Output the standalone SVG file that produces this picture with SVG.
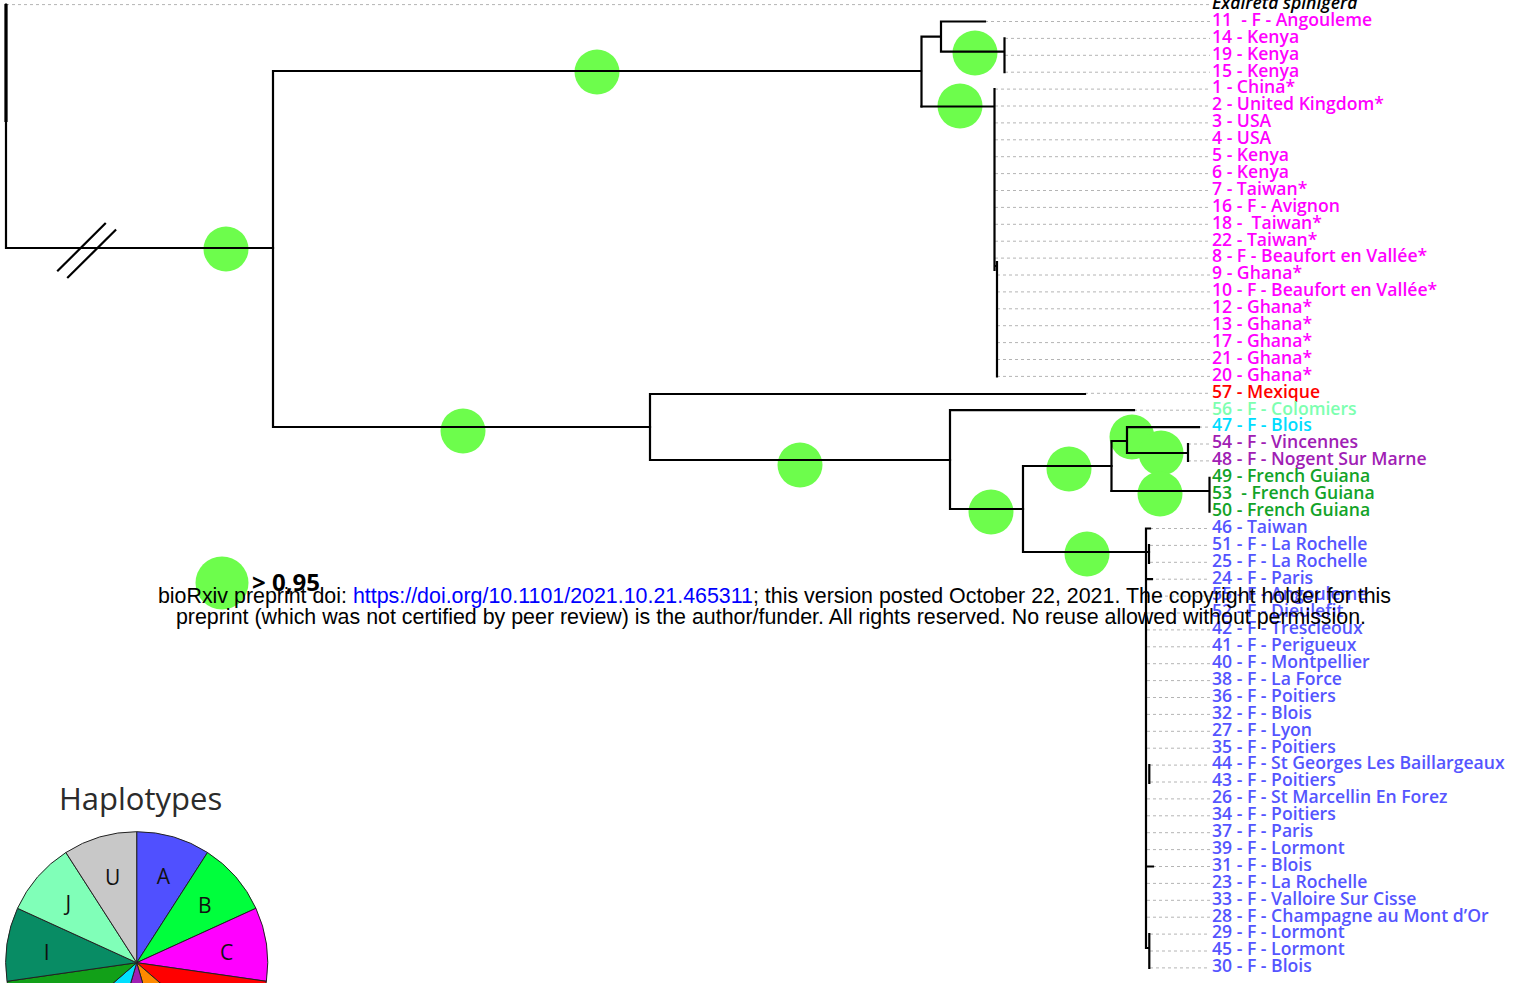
<svg xmlns="http://www.w3.org/2000/svg" width="1524" height="983" viewBox="0 0 1524 983">
<style>
.br{fill:none;stroke:#000;stroke-width:2.2;stroke-linecap:square}
.ds{fill:none;stroke:#b4b4b4;stroke-width:1;stroke-dasharray:3 3}
.pp{fill:#6dfd4c}
.lb{font-family:"Open Sans","Noto Sans",sans-serif;font-weight:600;font-size:17.6px}
.m{fill:#ff00ff}.r{fill:#ff0000}.mint{fill:#7dffb0}.cy{fill:#00dcff}.pu{fill:#a020b4}.gr{fill:#12a328}.bl{fill:#5555ff}
.sl{stroke:#222;stroke-width:1}
.pl{font-family:"Open Sans","Liberation Sans",sans-serif;font-size:21px;fill:#111;text-anchor:middle}
.bx{font-family:"Liberation Sans",Arial,sans-serif;font-size:21.4px;fill:#000;text-anchor:middle}
</style>
<rect width="1524" height="983" fill="#fff"/>
<g id="support">
<circle class="pp" cx="226" cy="249" r="22.5"/>
<circle class="pp" cx="597" cy="72" r="22.5"/>
<circle class="pp" cx="463" cy="431" r="22.5"/>
<circle class="pp" cx="975" cy="53" r="22.5"/>
<circle class="pp" cx="960" cy="106" r="22.5"/>
<circle class="pp" cx="800" cy="465" r="22.5"/>
<circle class="pp" cx="991" cy="512" r="22.5"/>
<circle class="pp" cx="1069" cy="469" r="22.5"/>
<circle class="pp" cx="1132" cy="437" r="22.5"/>
<circle class="pp" cx="1161" cy="453" r="22.5"/>
<circle class="pp" cx="1160" cy="494" r="22.5"/>
<circle class="pp" cx="1087" cy="554" r="22.5"/>
</g>
<g id="connectors">
<g class="ds">
<path d="M6,4.6H1210"/>
<path d="M985,21.5H1210M1005,38.4H1210M1005,55.3H1210M1005,72.2H1210"/>
<path d="M995,89.1H1210M995,106H1210M995,122.9H1210M995,139.8H1210M995,156.7H1210M995,173.6H1210M995,190.5H1210M995,207.4H1210M995,224.3H1210M995,241.2H1210M995,258.1H1210M997,275H1210M997,291.9H1210M997,308.8H1210M997,325.7H1210M997,342.6H1210M997,359.5H1210M997,376.4H1210"/>
<path d="M1085,393.3H1210M1134,410.2H1210M1199,427.1H1210M1188,444H1210M1188,460.9H1210"/>
<path d="M1150,528.5H1210M1150,545.4H1210M1150,562.3H1210M1150,579.2H1210M1147,596.1H1210M1147,613H1210M1147,629.9H1210M1147,646.8H1210M1147,663.7H1210M1147,680.6H1210M1147,697.5H1210M1147,714.4H1210M1147,731.3H1210M1147,748.2H1210M1150,765.1H1210M1150,782H1210M1147,798.9H1210M1147,815.8H1210M1147,832.7H1210M1147,849.6H1210M1153,866.5H1210M1147,883.4H1210M1147,900.3H1210M1147,917.2H1210M1150,934.1H1210M1150,951H1210M1150,967.9H1210"/>
</g>
<path class="br" d="M6,4.6V248H273"/>
<path d="M6,4V122" stroke="#000" stroke-width="3.2" fill="none"/>
<path class="br" d="M58,270.5L105,223.8M68,277.3L115.3,230.3"/>
<path class="br" d="M273,71V427M273,71H921M273,427H650"/>
<path class="br" d="M921.5,36.7V106.5M921.5,36.7H941M941,21.5V51.7M941,21.5H985M941,51.7H1004.5M1004.5,38.4V72.2"/>
<path class="br" d="M921.5,106.5H994.5M994.5,89.1V270M994.5,266H997M997,262V376.4"/>
<path class="br" d="M650,394V460M650,394H1085M650,460H950"/>
<path class="br" d="M950,410.2V509M950,410.2H1134M950,509H1023"/>
<path class="br" d="M1023,466V552M1023,466H1111.5M1023,552H1149"/>
<path class="br" d="M1111.5,441V491M1111.5,441H1127M1127,427.1V453M1127,427.1H1199M1127,453H1188M1188,444V461"/>
<path class="br" d="M1111.5,491H1209.5M1209.5,477.8V511.6"/>
<path class="br" d="M1146,528.5H1150M1146,528.5V948M1149,545V563M1146,579.2H1152M1149.3,765V783M1146,866.5H1153M1146,948H1149.3M1149.3,934V968"/>
</g>
<g id="labels" class="lb" transform="translate(0,1)">
<g id="n0"><text x="1212" y="7.9" font-style="italic" fill="#000">Exaireta spinigera</text></g>
<g id="n11"><text class="m" x="1212" y="24.8" xml:space="preserve">11  - F - Angouleme</text></g>
<g id="n14"><text class="m" x="1212" y="41.7">14 - Kenya</text></g>
<g id="n19"><text class="m" x="1212" y="58.6">19 - Kenya</text></g>
<g id="n15"><text class="m" x="1212" y="75.5">15 - Kenya</text></g>
<g id="n1"><text class="m" x="1212" y="92.4">1 - China*</text></g>
<g id="n2"><text class="m" x="1212" y="109.3">2 - United Kingdom*</text></g>
<g id="n3"><text class="m" x="1212" y="126.2">3 - USA</text></g>
<g id="n4"><text class="m" x="1212" y="143.1">4 - USA</text></g>
<g id="n5"><text class="m" x="1212" y="160">5 - Kenya</text></g>
<g id="n6"><text class="m" x="1212" y="176.9">6 - Kenya</text></g>
<g id="n7"><text class="m" x="1212" y="193.8">7 - Taiwan*</text></g>
<g id="n16"><text class="m" x="1212" y="210.7">16 - F - Avignon</text></g>
<g id="n18"><text class="m" x="1212" y="227.6" xml:space="preserve">18 -  Taiwan*</text></g>
<g id="n22"><text class="m" x="1212" y="244.5">22 - Taiwan*</text></g>
<g id="n8"><text class="m" x="1212" y="261.4">8 - F - Beaufort en Vallée*</text></g>
<g id="n9"><text class="m" x="1212" y="278.3">9 - Ghana*</text></g>
<g id="n10"><text class="m" x="1212" y="295.2">10 - F - Beaufort en Vallée*</text></g>
<g id="n12"><text class="m" x="1212" y="312.1">12 - Ghana*</text></g>
<g id="n13"><text class="m" x="1212" y="329">13 - Ghana*</text></g>
<g id="n17"><text class="m" x="1212" y="345.9">17 - Ghana*</text></g>
<g id="n21"><text class="m" x="1212" y="362.8">21 - Ghana*</text></g>
<g id="n20"><text class="m" x="1212" y="379.7">20 - Ghana*</text></g>
<g id="n57"><text class="r" x="1212" y="396.6">57 - Mexique</text></g>
<g id="n56"><text class="mint" x="1212" y="413.5">56 - F - Colomiers</text></g>
<g id="n47"><text class="cy" x="1212" y="430.4">47 - F - Blois</text></g>
<g id="n54"><text class="pu" x="1212" y="447.3">54 - F - Vincennes</text></g>
<g id="n48"><text class="pu" x="1212" y="464.2">48 - F - Nogent Sur Marne</text></g>
<g id="n49"><text class="gr" x="1212" y="481.1">49 - French Guiana</text></g>
<g id="n53"><text class="gr" x="1212" y="498" xml:space="preserve">53  - French Guiana</text></g>
<g id="n50"><text class="gr" x="1212" y="514.9">50 - French Guiana</text></g>
<g id="n46"><text class="bl" x="1212" y="531.8">46 - Taiwan</text></g>
<g id="n51"><text class="bl" x="1212" y="548.7">51 - F - La Rochelle</text></g>
<g id="n25"><text class="bl" x="1212" y="565.6">25 - F - La Rochelle</text></g>
<g id="n24"><text class="bl" x="1212" y="582.5">24 - F - Paris</text></g>
<g id="n55"><text class="bl" x="1212" y="599.4">55 - F - Angouleme</text></g>
<g id="n52"><text class="bl" x="1212" y="616.3">52 - F - Dieulefit</text></g>
<g id="n42"><text class="bl" x="1212" y="633.2">42 - F - Trescleoux</text></g>
<g id="n41"><text class="bl" x="1212" y="650.1">41 - F - Perigueux</text></g>
<g id="n40"><text class="bl" x="1212" y="667">40 - F - Montpellier</text></g>
<g id="n38"><text class="bl" x="1212" y="683.9">38 - F - La Force</text></g>
<g id="n36"><text class="bl" x="1212" y="700.8">36 - F - Poitiers</text></g>
<g id="n32"><text class="bl" x="1212" y="717.7">32 - F - Blois</text></g>
<g id="n27"><text class="bl" x="1212" y="734.6">27 - F - Lyon</text></g>
<g id="n35"><text class="bl" x="1212" y="751.5">35 - F - Poitiers</text></g>
<g id="n44"><text class="bl" x="1212" y="768.4">44 - F - St Georges Les Baillargeaux</text></g>
<g id="n43"><text class="bl" x="1212" y="785.3">43 - F - Poitiers</text></g>
<g id="n26"><text class="bl" x="1212" y="802.2">26 - F - St Marcellin En Forez</text></g>
<g id="n34"><text class="bl" x="1212" y="819.1">34 - F - Poitiers</text></g>
<g id="n37"><text class="bl" x="1212" y="836">37 - F - Paris</text></g>
<g id="n39"><text class="bl" x="1212" y="852.9">39 - F - Lormont</text></g>
<g id="n31"><text class="bl" x="1212" y="869.8">31 - F - Blois</text></g>
<g id="n23"><text class="bl" x="1212" y="886.7">23 - F - La Rochelle</text></g>
<g id="n33"><text class="bl" x="1212" y="903.6">33 - F - Valloire Sur Cisse</text></g>
<g id="n28"><text class="bl" x="1212" y="920.5">28 - F - Champagne au Mont d’Or</text></g>
<g id="n29"><text class="bl" x="1212" y="937.4">29 - F - Lormont</text></g>
<g id="n45"><text class="bl" x="1212" y="954.3">45 - F - Lormont</text></g>
<g id="n30"><text class="bl" x="1212" y="971.2">30 - F - Blois</text></g>
</g>
<g id="legend-support">
<circle class="pp" cx="222" cy="583" r="26.5"/>
<text x="252" y="591" font-family="'Open Sans','Liberation Sans',sans-serif" font-weight="700" font-size="24" fill="#000">&gt; 0,95</text>
</g>
<g id="legend-haplotypes">
<text x="59" y="810" font-family="'Open Sans','Liberation Sans',sans-serif" font-size="31" fill="#2b2b2b">Haplotypes</text>
<g class="sl">
<path d="M136.7,962.7L136.7,831.7A131,131 0 0 1 207.5,852.5Z" fill="#5050ff"/>
<path d="M136.7,962.7L207.5,852.5A131,131 0 0 1 255.9,908.3Z" fill="#00ff3c"/>
<path d="M136.7,962.7L255.9,908.3A131,131 0 0 1 266.4,981.3Z" fill="#ff00ff"/>
<path d="M136.7,962.7L266.4,981.3A131,131 0 0 1 235.7,1048.5Z" fill="#ff0000"/>
<path d="M136.7,962.7L235.7,1048.5A131,131 0 0 1 173.6,1088.4Z" fill="#ff8a00"/>
<path d="M136.7,962.7L173.6,1088.4A131,131 0 0 1 99.8,1088.4Z" fill="#a020b4"/>
<path d="M136.7,962.7L99.8,1088.4A131,131 0 0 1 37.7,1048.5Z" fill="#00e0ff"/>
<path d="M136.7,962.7L37.7,1048.5A131,131 0 0 1 7,981.3Z" fill="#12a018"/>
<path d="M136.7,962.7L7,981.3A131,131 0 0 1 17.5,908.3Z" fill="#088c64"/>
<path d="M136.7,962.7L17.5,908.3A131,131 0 0 1 65.9,852.5Z" fill="#80ffb8"/>
<path d="M136.7,962.7L65.9,852.5A131,131 0 0 1 136.7,831.7Z" fill="#c8c8c8"/>
</g>
<text class="pl" x="163.3" y="883.5">A</text>
<text class="pl" x="204.7" y="912.5">B</text>
<text class="pl" x="226.7" y="960.2">C</text>
<text class="pl" x="112.7" y="884.8">U</text>
<text class="pl" x="68.3" y="910.8">J</text>
<text class="pl" x="46.7" y="960.2">I</text>
</g>
<g id="watermark">
<text class="bx" x="774.5" y="602.5">bioRxiv preprint doi: <tspan fill="#0000ff">https://doi.org/10.1101/2021.10.21.465311</tspan>; this version posted October 22, 2021. The copyright holder for this</text>
<text class="bx" x="771" y="623.5">preprint (which was not certified by peer review) is the author/funder. All rights reserved. No reuse allowed without permission.</text>
</g>
</svg>
